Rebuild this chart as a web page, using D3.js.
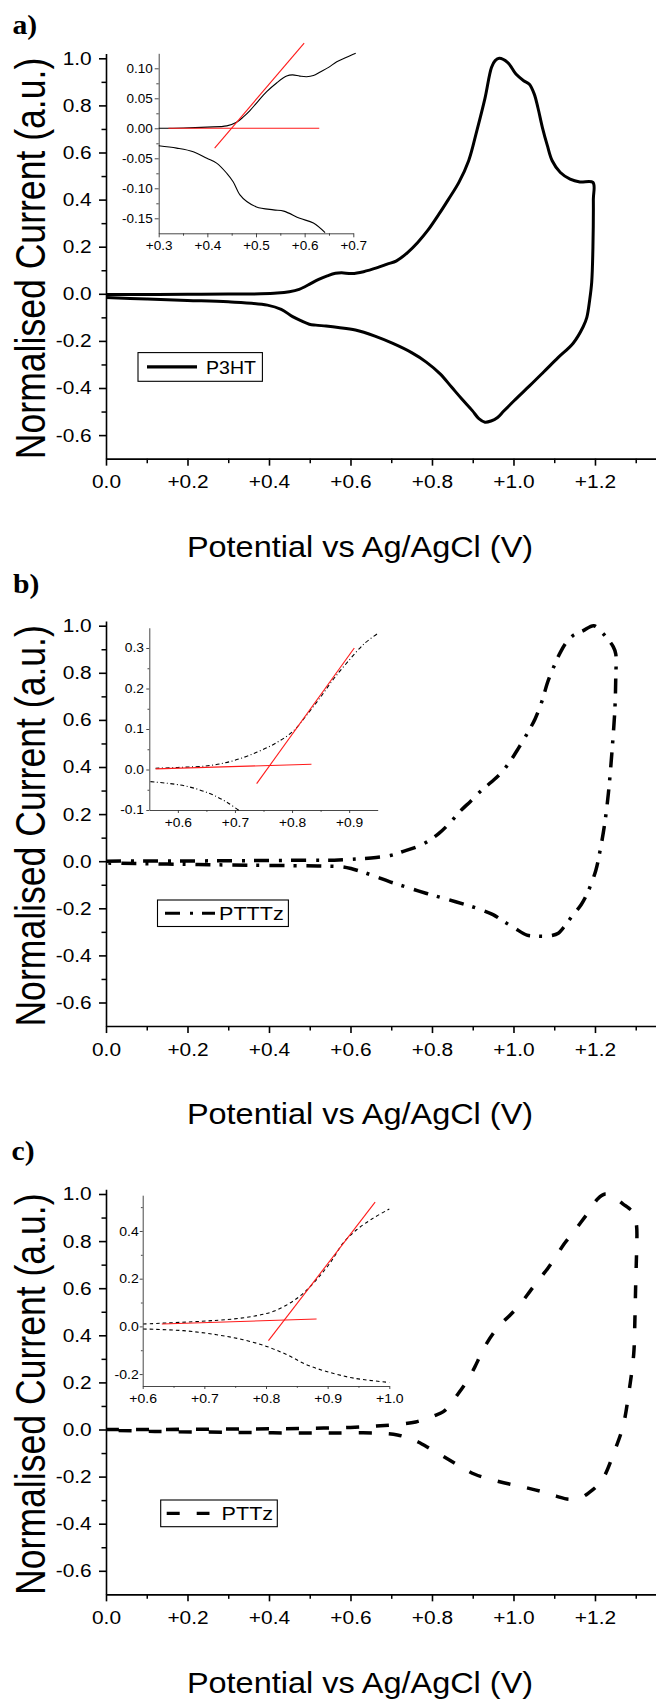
<!DOCTYPE html>
<html>
<head>
<meta charset="utf-8">
<script src="https://cdn.jsdelivr.net/npm/d3@7/dist/d3.min.js"></script>
<style>
body{margin:0;background:#fff}
</style>
</head>
<body>
<svg id="fig" width="656" height="1701"></svg>
<script>
// ---- data ----
var xTicks = [0, 0.2, 0.4, 0.6, 0.8, 1.0, 1.2]
var xMinor = [0.1, 0.3, 0.5, 0.7, 0.9, 1.1, 1.3]
var yTicks = [1.0, 0.8, 0.6, 0.4, 0.2, 0.0, -0.2, -0.4, -0.6]
var yMinor = [0.9, 0.7, 0.5, 0.3, 0.1, -0.1, -0.3, -0.5]
var legendNames = ['P3HT', 'PTTTz', 'PTTz']
var panelLetters = ['a)', 'b)', 'c)']
var xTitle = 'Potential vs Ag/AgCl (V)'
var yTitle = 'Normalised Current (a.u.)'

// P3HT cyclic voltammogram (forward then reverse scan)
var p3htCV = [[0,-0.003],[0.1,-0.003],[0.2,-0.002],[0.3,-0.001],[0.38,0.000],[0.42,0.003],[0.45,0.009],[0.474,0.019],[0.488,0.030],[0.501,0.042],
  [0.522,0.061],[0.543,0.076],[0.563,0.087],[0.578,0.089],[0.604,0.086],[0.632,0.094],[0.666,0.111],[0.69,0.126],[0.713,0.140],[0.74,0.175],
  [0.765,0.218],[0.79,0.27],[0.817,0.338],[0.84,0.40],[0.866,0.473],[0.89,0.565],[0.91,0.692],[0.93,0.83],[0.946,0.961],[0.955,0.99],
  [0.965,1.0],[0.986,0.982],[1.006,0.933],[1.025,0.905],[1.039,0.890],[1.051,0.848],[1.06,0.79],[1.071,0.706],[1.083,0.63],[1.095,0.565],
  [1.115,0.515],[1.139,0.487],[1.163,0.475],[1.195,0.473],[1.196,0.40],[1.195,0.2],[1.192,0.05],[1.187,-0.026],[1.18,-0.10],[1.171,-0.140],
  [1.146,-0.211],[1.11,-0.27],[1.074,-0.332],[1.04,-0.39],[1.002,-0.453],[0.975,-0.50],[0.961,-0.525],[0.945,-0.540],[0.930,-0.545],[0.915,-0.530],
  [0.899,-0.496],[0.875,-0.45],[0.848,-0.396],[0.82,-0.34],[0.786,-0.290],[0.75,-0.25],[0.704,-0.211],[0.66,-0.18],[0.612,-0.154],[0.570,-0.143],
  [0.540,-0.137],[0.515,-0.133],[0.499,-0.129],[0.478,-0.114],[0.458,-0.097],[0.43,-0.066],[0.396,-0.048],[0.30,-0.034],[0.20,-0.028],[0.10,-0.022],[0,-0.016]]
// PTTTz
var ptttzCV = [[0,0.0],[0.1,0.001],[0.2,0.001],[0.3,0.002],[0.4,0.003],[0.5,0.004],[0.56,0.004],[0.602,0.008],[0.663,0.016],[0.70,0.025],
  [0.725,0.039],[0.776,0.071],[0.817,0.118],[0.845,0.165],[0.869,0.212],[0.895,0.255],[0.920,0.298],[0.945,0.335],[0.971,0.377],[0.992,0.425],
  [1.012,0.479],[1.033,0.54],[1.053,0.604],[1.07,0.68],[1.084,0.761],[1.10,0.83],[1.115,0.887],[1.13,0.93],[1.146,0.958],[1.17,0.978],
  [1.197,1.0],[1.215,0.975],[1.228,0.950],[1.245,0.91],[1.251,0.88],[1.251,0.78],[1.249,0.651],[1.243,0.495],[1.233,0.290],[1.223,0.149],
  [1.212,0.04],[1.202,-0.039],[1.182,-0.133],[1.166,-0.185],[1.146,-0.228],[1.128,-0.27],[1.110,-0.306],[1.09,-0.317],[1.074,-0.319],[1.055,-0.318],
  [1.033,-0.314],[1.002,-0.283],[0.975,-0.255],[0.951,-0.228],[0.92,-0.206],[0.889,-0.188],[0.858,-0.172],[0.828,-0.157],[0.797,-0.142],[0.766,-0.126],
  [0.73,-0.106],[0.694,-0.086],[0.663,-0.066],[0.632,-0.047],[0.605,-0.033],[0.581,-0.024],[0.52,-0.020],[0.458,-0.019],[0.35,-0.017],[0.253,-0.015],
  [0.15,-0.012],[0,-0.008]]
// PTTz
var pttzCV = [[0,0.0],[0.1,0.0],[0.2,0.001],[0.3,0.002],[0.4,0.003],[0.5,0.005],[0.6,0.009],[0.663,0.015],[0.725,0.023],[0.76,0.032],
  [0.786,0.046],[0.808,0.06],[0.828,0.076],[0.845,0.105],[0.858,0.137],[0.874,0.175],[0.889,0.213],[0.905,0.265],[0.920,0.319],[0.935,0.368],
  [0.951,0.410],[0.97,0.45],[0.992,0.486],[1.02,0.54],[1.043,0.593],[1.064,0.64],[1.084,0.684],[1.105,0.737],[1.125,0.790],[1.146,0.835],
  [1.166,0.881],[1.187,0.93],[1.207,0.980],[1.225,1.0],[1.243,0.991],[1.256,0.975],[1.269,0.957],[1.283,0.94],[1.295,0.919],[1.302,0.866],
  [1.302,0.75],[1.300,0.623],[1.298,0.47],[1.295,0.319],[1.284,0.167],[1.269,0.015],[1.248,-0.091],[1.223,-0.198],[1.205,-0.24],[1.187,-0.266],
  [1.166,-0.289],[1.136,-0.296],[1.105,-0.283],[1.074,-0.266],[1.038,-0.25],[1.002,-0.236],[0.966,-0.222],[0.930,-0.205],[0.905,-0.19],[0.879,-0.167],
  [0.855,-0.142],[0.828,-0.114],[0.797,-0.083],[0.766,-0.053],[0.74,-0.035],[0.715,-0.023],[0.663,-0.015],[0.56,-0.015],[0.458,-0.015],[0.35,-0.013],
  [0.253,-0.011],[0.12,-0.008],[0,-0.003]]

// insets: onset region, two branches + tangent lines (red)
var insetAUpper = [[0.30,0.0],[0.35,0.0005],[0.40,0.002],[0.44,0.004],[0.46,0.01],[0.474,0.019],[0.488,0.030],[0.501,0.042],[0.522,0.061],
  [0.543,0.076],[0.563,0.087],[0.575,0.089],[0.59,0.087],[0.604,0.086],[0.618,0.088],[0.632,0.094],[0.65,0.102],[0.666,0.111],[0.685,0.118],[0.705,0.125]]
var insetALower = [[0.30,-0.029],[0.337,-0.033],[0.371,-0.039],[0.399,-0.05],[0.419,-0.058],[0.44,-0.075],[0.453,-0.089],[0.467,-0.111],
  [0.481,-0.122],[0.501,-0.131],[0.536,-0.136],[0.557,-0.138],[0.59,-0.15],[0.618,-0.158],[0.642,-0.174]]
var insetATangents = [[[0.32,0],[0.63,0]], [[0.415,-0.033],[0.599,0.142]]]
var insetAYTicks = [0.10, 0.05, 0.00, -0.05, -0.10, -0.15]
var insetAYMinor = [0.075, 0.025, -0.025, -0.075, -0.125]
var insetAXTicks = [0.3, 0.4, 0.5, 0.6, 0.7]
var insetAXMinor = [0.35, 0.45, 0.55, 0.65]

var insetBUpper = [[0.561,0.003],[0.6,0.005],[0.657,0.010],[0.698,0.022],[0.739,0.043],[0.774,0.067],[0.803,0.096],[0.827,0.137],
  [0.850,0.179],[0.873,0.224],[0.897,0.265],[0.926,0.310],[0.949,0.335]]
var insetBLower = [[0.552,-0.030],[0.611,-0.040],[0.657,-0.060],[0.686,-0.081],[0.707,-0.101]]
var insetBTangents = [[[0.561,0.0016],[0.834,0.013]], [[0.738,-0.035],[0.909,0.30]]]
var insetBYTicks = [0.3, 0.2, 0.1, 0.0, -0.1]
var insetBYMinor = [0.25, 0.15, 0.05, -0.05]
var insetBXTicks = [0.6, 0.7, 0.8, 0.9]
var insetBXMinor = [0.65, 0.75, 0.85]

var insetCUpper = [[0.601,0.010],[0.693,0.021],[0.747,0.031],[0.785,0.045],[0.812,0.063],[0.839,0.098],[0.861,0.140],[0.882,0.196],
  [0.904,0.266],[0.925,0.349],[0.947,0.405],[0.974,0.454],[1.0,0.492]]
var insetCLower = [[0.601,-0.011],[0.666,-0.018],[0.720,-0.035],[0.763,-0.056],[0.801,-0.084],[0.834,-0.119],[0.866,-0.161],
  [0.898,-0.189],[0.942,-0.217],[1.0,-0.235]]
var insetCTangents = [[[0.631,0.010],[0.882,0.031]], [[0.804,-0.060],[0.977,0.521]]]
var insetCYTicks = [0.4, 0.2, 0.0, -0.2]
var insetCYMinor = [0.5, 0.3, 0.1, -0.1]
var insetCXTicks = [0.6, 0.7, 0.8, 0.9, 1.0]
var insetCXMinor = [0.65, 0.75, 0.85, 0.95]

// ---- drawing ----
var FONT = '"Liberation Sans", Arial, sans-serif'
var SERIF = '"Liberation Serif", "Times New Roman", serif'
var svg = d3.select('#fig')
svg.append('rect').attr('width', 656).attr('height', 1701).attr('fill', '#fff')

function plusFmt(v){ return Math.abs(v) < 1e-9 ? '0.0' : (v > 0 ? '+' : '') + v.toFixed(1) }

function stretchText(sel, k){
	sel.each(function(){
		var t = d3.select(this)
		var x = +t.attr('x') || 0
		t.attr('x', x / k).attr('transform', 'scale(' + k + ',1)')
	})
}

function styleAxis(g, fs, k, w, col){
	g.attr('font-size', fs).attr('font-family', FONT)
	g.select('.domain').attr('stroke-width', w).attr('stroke', col)
	g.selectAll('.tick line').attr('stroke-width', w).attr('stroke', col)
	g.selectAll('.tick text').attr('fill', '#000')
	stretchText(g.selectAll('.tick text'), k)
}

function minorAxis(g, axis){
	g.call(axis)
	g.select('.domain').remove()
}

function drawInset(q){
	var x = d3.scaleLinear().domain(q.xDom).range(q.xRange)
	var y = d3.scaleLinear().domain(q.yDom).range(q.yRange)
	var g = svg.append('g')
	var left = q.xRange[0], bottom = q.yRange[0]
	var gy2 = g.append('g').attr('transform', 'translate(' + left + ',0)')
	minorAxis(gy2, d3.axisLeft(y).tickValues(q.yMinor).tickSize(q.tick * 0.6).tickFormat(''))
	gy2.selectAll('line').attr('stroke', '#333').attr('stroke-width', 0.9)
	var gx2 = g.append('g').attr('transform', 'translate(0,' + bottom + ')')
	minorAxis(gx2, d3.axisBottom(x).tickValues(q.xMinor).tickSize(q.tick * 0.6).tickFormat(''))
	gx2.selectAll('line').attr('stroke', '#333').attr('stroke-width', 0.9)

	var gy = g.append('g').attr('transform', 'translate(' + left + ',0)')
		.call(d3.axisLeft(y).tickValues(q.yTicks).tickSize(q.tick).tickSizeOuter(0).tickPadding(q.yPad)
			.tickFormat(function(v){ return Math.abs(v) < 1e-9 ? (0).toFixed(q.yDec) : v.toFixed(q.yDec) }))
	styleAxis(gy, q.fs, q.k, 0.9, '#333')
	var gx = g.append('g').attr('transform', 'translate(0,' + bottom + ')')
		.call(d3.axisBottom(x).tickValues(q.xTicks).tickSize(q.tick).tickSizeOuter(0).tickPadding(q.xPad)
			.tickFormat(function(v){ return '+' + v.toFixed(1) }))
	styleAxis(gx, q.fs, q.k, 0.9, '#333')

	var line = d3.line().x(d => x(d[0])).y(d => y(d[1])).curve(d3.curveCatmullRom.alpha(0.5))
	;[q.upper, q.lower].forEach(function(s){
		g.append('path').attr('d', line(s)).attr('fill', 'none').attr('stroke', '#000')
			.attr('stroke-width', 1.1).attr('stroke-dasharray', q.dash)
	})
	q.tangents.forEach(function(s){
		g.append('path').attr('d', d3.line().x(d => x(d[0])).y(d => y(d[1]))(s))
			.attr('fill', 'none').attr('stroke', '#ff1a1a').attr('stroke-width', 1.1)
	})
}

function drawPanel(p){
	var x = d3.scaleLinear().domain([0, 1.35]).range([106, 656.1])
	var y = d3.scaleLinear().domain([-0.7, 1.02]).range([p.top + 400.35, p.top - 4.71])
	var axisY = y(-0.7)
	var g = svg.append('g')

	minorAxis(g.append('g').attr('transform', 'translate(106,0)'),
		d3.axisLeft(y).tickValues(yMinor).tickSize(4.5).tickFormat(''))
	minorAxis(g.append('g').attr('transform', 'translate(0,' + axisY + ')'),
		d3.axisBottom(x).tickValues(xMinor).tickSize(4.5).tickFormat(''))
	g.selectAll('.tick line').attr('stroke-width', 1.5)

	var gy = g.append('g').attr('transform', 'translate(106,0)')
		.call(d3.axisLeft(y).tickValues(yTicks).tickSize(7).tickSizeOuter(0).tickPadding(7.3)
			.tickFormat(function(v){ return Math.abs(v) < 1e-9 ? '0.0' : v.toFixed(1) }))
	styleAxis(gy, 18.5, 1.13, 1.6, '#000')
	var gx = g.append('g').attr('transform', 'translate(0,' + axisY + ')')
		.call(d3.axisBottom(x).tickValues(xTicks).tickSize(7).tickSizeOuter(0).tickPadding(9.4).tickFormat(plusFmt))
	styleAxis(gx, 18.5, 1.13, 1.6, '#000')

	// titles
	g.append('text').attr('transform', 'translate(360,' + (axisY + 88) + ') scale(1.1,1)')
		.attr('text-anchor', 'middle').attr('dy', '0.35em').attr('font-family', FONT)
		.attr('font-size', 29.5).text(xTitle)
	g.append('text').attr('transform', 'translate(45,' + ((y(1) + axisY) / 2) + ') rotate(-90) scale(1,1.18)')
		.attr('text-anchor', 'middle').attr('font-family', FONT).attr('font-size', 35.6).text(yTitle)
	g.append('text').attr('transform', 'translate(' + p.letterX + ',' + p.letterY + ') scale(1.1,1)')
		.attr('font-family', SERIF).attr('font-weight', 'bold').attr('font-size', 27).text(p.letter)

	// curve
	var line = d3.line().x(d => x(d[0])).y(d => y(d[1])).curve(d3.curveCatmullRom.alpha(0.5))
	g.append('path').attr('d', line(p.data)).attr('fill', 'none').attr('stroke', '#000')
		.attr('stroke-width', p.width).attr('stroke-dasharray', p.dash).attr('stroke-linejoin', 'round')

	// legend
	var L = p.legend
	g.append('rect').attr('x', L.x).attr('y', L.y).attr('width', L.w).attr('height', L.h)
		.attr('fill', '#fff').attr('stroke', '#000').attr('stroke-width', 1.1)
	g.append('line').attr('x1', L.l1).attr('x2', L.l2).attr('y1', L.y + L.h / 2).attr('y2', L.y + L.h / 2)
		.attr('stroke', '#000').attr('stroke-width', 3.2).attr('stroke-dasharray', p.dash)
	g.append('text').attr('transform', 'translate(' + L.tx + ',' + (L.y + L.h / 2) + ') scale(' + L.k + ',1)')
		.attr('dy', '0.36em').attr('font-family', FONT).attr('font-size', 18.6).text(p.name)
}

drawPanel({top: 58.3, data: p3htCV, name: legendNames[0], letter: panelLetters[0], letterX: 12.5, letterY: 33.5,
	width: 3, dash: null,
	legend: {x: 138, y: 352.6, w: 124.4, h: 28.7, l1: 147, l2: 197, tx: 206, k: 1.05}})
drawPanel({top: 625.7, data: ptttzCV, name: legendNames[1], letter: panelLetters[1], letterX: 13, letterY: 593,
	width: 3.5, dash: '15,10,3,9',
	legend: {x: 157.5, y: 900, w: 130.9, h: 26.5, l1: 165, l2: 215, tx: 219, k: 1.16}})
drawPanel({top: 1194, data: pttzCV, name: legendNames[2], letter: panelLetters[2], letterX: 11.5, letterY: 1160,
	width: 3.5, dash: '13,17',
	legend: {x: 160.7, y: 1500, w: 116.6, h: 26.7, l1: 166.7, l2: 209.5, tx: 221.6, k: 1.16}})

drawInset({xDom: [0.3, 0.7], xRange: [158.7, 353.3], yDom: [-0.175, 0.125], yRange: [233.3, 53.3],
	yTicks: insetAYTicks, yMinor: insetAYMinor, xTicks: insetAXTicks, xMinor: insetAXMinor, yDec: 2,
	tick: 4, yPad: 2, xPad: 3.5, fs: 13.5, k: 1.0, dash: null,
	upper: insetAUpper, lower: insetALower, tangents: insetATangents})
drawInset({xDom: [0.55, 0.95], xRange: [149.3, 377.7], yDom: [-0.1, 0.35], yRange: [810, 627.75],
	yTicks: insetBYTicks, yMinor: insetBYMinor, xTicks: insetBXTicks, xMinor: insetBXMinor, yDec: 1,
	tick: 3, yPad: 2.3, xPad: 5.4, fs: 12, k: 1.15, dash: '4,2.5,1,2.5',
	upper: insetBUpper, lower: insetBLower, tangents: insetBTangents})
drawInset({xDom: [0.6, 1.0], xRange: [142.7, 389.3], yDom: [-0.25, 0.55], yRange: [1386, 1195.2],
	yTicks: insetCYTicks, yMinor: insetCYMinor, xTicks: insetCXTicks, xMinor: insetCXMinor, yDec: 1,
	tick: 3, yPad: 1, xPad: 4.6, fs: 13, k: 1.08, dash: '3.5,3',
	upper: insetCUpper, lower: insetCLower, tangents: insetCTangents})
</script>
</body>
</html>
